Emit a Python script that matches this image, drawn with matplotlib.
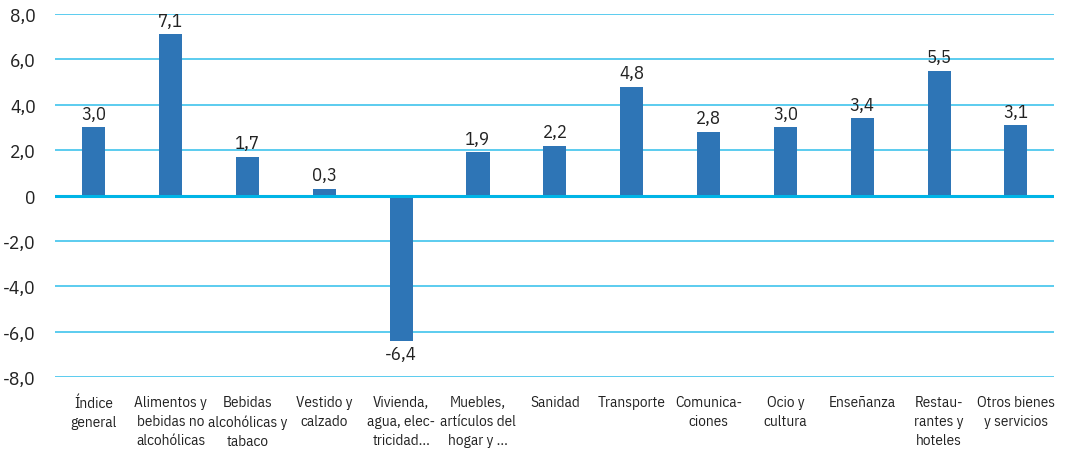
import matplotlib
matplotlib.use('Agg')
import matplotlib.pyplot as plt

plt.rcParams['font.family'] = ['IBM Plex Sans Condensed', 'DejaVu Sans']

categorias = ['Índice\ngeneral', 'Alimentos y\nbebidas no\nalcohólicas',
              'Bebidas\nalcohólicas y\ntabaco', 'Vestido y\ncalzado',
              'Vivienda,\nagua, elec-\ntricidad...', 'Muebles,\nartículos del\nhogar y ...',
              'Sanidad', 'Transporte', 'Comunica-\nciones', 'Ocio y\ncultura',
              'Enseñanza', 'Restau-\nrantes y\nhoteles', 'Otros bienes\ny servicios']
valores = [3.0, 7.1, 1.7, 0.3, -6.4, 1.9, 2.2, 4.8, 2.8, 3.0, 3.4, 5.5, 3.1]
yticks = [-8, -6, -4, -2, 0, 2, 4, 6, 8]

BAR = '#2E75B6'
GRID = '#40C4EC'

fig = plt.figure(figsize=(10.65, 4.56), dpi=100)
ax = fig.add_axes([0.052, 0.171, 0.938, 0.796])

x = list(range(len(valores)))
ax.bar(x, valores, width=0.3, color=BAR, zorder=3)
ax.set_xlim(-0.5, len(valores) - 0.5)
ax.set_ylim(-8, 8)
ax.set_yticks(yticks)
ax.set_yticklabels(['0' if v == 0 else f'{v:.1f}'.replace('.', ',') for v in yticks])
ax.set_xticks(x)
ax.set_xticklabels(categorias, fontsize=11, color='#222', linespacing=1.45, va='top')
ax.tick_params(axis='y', length=0, labelsize=14, colors='#222', pad=14)
ax.tick_params(axis='x', length=0, pad=13)

for v in yticks:
    if v != 0:
        ax.axhline(v, color=GRID, lw=1.2, zorder=1)
ax.axhline(0, color='#00B4E6', lw=2.2, zorder=4)

for spine in ax.spines.values():
    spine.set_visible(False)

for xi, v in zip(x, valores):
    lab = f'{v:.1f}'.replace('.', ',')
    if v >= 0:
        ax.text(xi, v + 0.2, lab, ha='center', va='bottom', fontsize=13.5, color='#222', zorder=5)
    else:
        ax.text(xi, v - 0.2, lab, ha='center', va='top', fontsize=13.5, color='#222', zorder=5)

fig.savefig('out.png', dpi=100, facecolor='white')
